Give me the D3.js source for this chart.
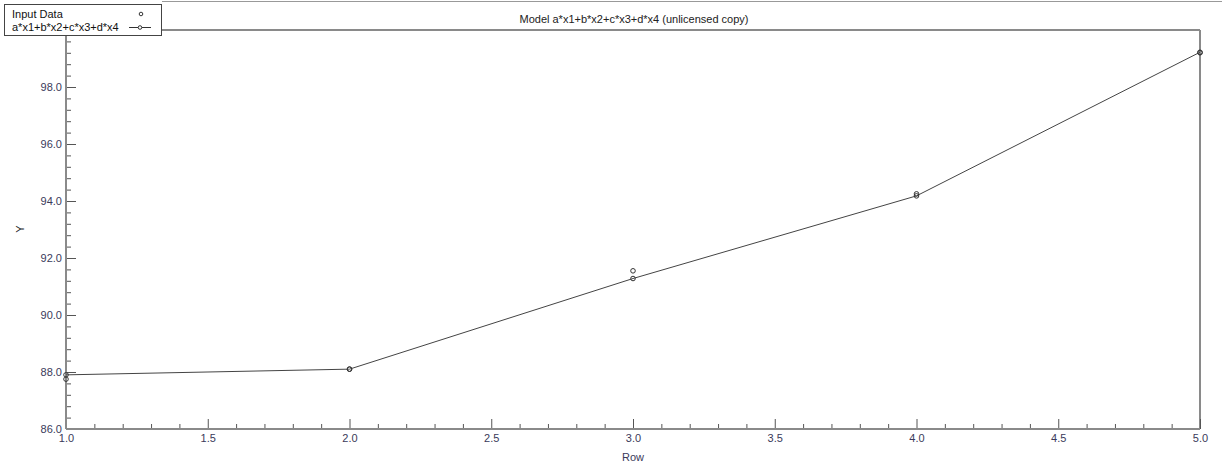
<!DOCTYPE html>
<html><head><meta charset="utf-8">
<script src="https://cdn.jsdelivr.net/npm/d3@7"></script>
<style>body{margin:0;background:#fff}svg{display:block;font-family:"Liberation Sans",Arial,sans-serif}</style>
</head><body>
<svg id="c" width="1222" height="474"></svg>
<script>
const rows = [1, 2, 3, 4, 5];
const inputData = [87.75, 88.1, 91.55, 94.25, 99.2];
const modelValues = [87.9, 88.1, 91.28, 94.18, 99.22];
const xTicks = [1.0, 1.5, 2.0, 2.5, 3.0, 3.5, 4.0, 4.5, 5.0];
const yTicks = [86.0, 88.0, 90.0, 92.0, 94.0, 96.0, 98.0];
const legendLabels = ["Input Data", "a*x1+b*x2+c*x3+d*x4"];
const title = "Model a*x1+b*x2+c*x3+d*x4 (unlicensed copy)";

const svg = d3.select("#c");
const L = 66, R = 1200, T = 30, B = 429;
const x = d3.scaleLinear().domain([1, 5]).range([L, R]);
const y = d3.scaleLinear().domain([86, 100]).range([B, T]);
const axisCol = "#8a8a8a", textCol = "#3a3a5a";

// top window line
svg.append("line").attr("x1", 162).attr("x2", 1222).attr("y1", 1.5).attr("y2", 1.5).attr("stroke", "#999").attr("stroke-width", 1);

// frame top & right
svg.append("line").attr("x1", 162).attr("x2", R).attr("y1", T).attr("y2", T).attr("stroke", axisCol).attr("stroke-width", 2);
svg.append("line").attr("x1", R).attr("x2", R).attr("y1", T).attr("y2", B).attr("stroke", axisCol).attr("stroke-width", 2);

// minor ticks
const xMinor = d3.range(10, 51).map(d => d / 10).filter(d => Math.abs(d * 2 - Math.round(d * 2)) > 1e-6);
const yMinor = d3.range(215, 251).map(d => d * 0.4).filter(d => d > 86 && d < 100 && Math.abs(d / 2 - Math.round(d / 2)) > 1e-6);

const xAxisMajor = d3.axisBottom(x).tickValues(xTicks).tickSize(-10).tickPadding(5).tickFormat(d3.format(".1f"));
const gx = svg.append("g").attr("transform", `translate(0,${B})`).call(xAxisMajor);
const gxm = svg.append("g").attr("transform", `translate(0,${B})`).call(d3.axisBottom(x).tickValues(xMinor).tickSize(-5).tickFormat(""));
const yAxisMajor = d3.axisLeft(y).tickValues(yTicks).tickSize(-10).tickPadding(4).tickFormat(d3.format(".1f"));
const gy = svg.append("g").attr("transform", `translate(${L},0)`).call(yAxisMajor);
const gym = svg.append("g").attr("transform", `translate(${L},0)`).call(d3.axisLeft(y).tickValues(yMinor).tickSize(-5).tickFormat(""));
[gx, gxm, gy, gym].forEach(g => {
  g.select(".domain").remove();
  g.selectAll(".tick line").attr("stroke", "#555").attr("stroke-width", 1);
  g.selectAll("text").attr("fill", textCol).attr("font-size", 11).attr("font-family", "Liberation Sans, Arial, sans-serif");
});
gx.selectAll(".tick text").attr("dy", "0.71em");
// axis lines
svg.append("line").attr("x1", L).attr("x2", R).attr("y1", B).attr("y2", B).attr("stroke", axisCol).attr("stroke-width", 2);
svg.append("line").attr("x1", L).attr("x2", L).attr("y1", 36).attr("y2", B).attr("stroke", axisCol).attr("stroke-width", 2);

// labels
svg.append("text").attr("x", 634).attr("y", 23).attr("text-anchor", "middle").attr("font-size", 11).attr("fill", "#222").text(title);
svg.append("text").attr("x", 633).attr("y", 461).attr("text-anchor", "middle").attr("font-size", 11).attr("fill", textCol).text("Row");
svg.append("text").attr("transform", "translate(24,229) rotate(-90)").attr("text-anchor", "middle").attr("font-size", 11).attr("fill", "#222").text("Y");

// model line
const line = d3.line().x((d, i) => x(rows[i])).y(d => y(d));
svg.append("path").datum(modelValues).attr("d", line).attr("fill", "none").attr("stroke", "#444").attr("stroke-width", 1);
svg.selectAll(".mp").data(modelValues).join("circle").attr("cx", (d, i) => x(rows[i])).attr("cy", d => y(d)).attr("r", 2.3).attr("fill", "none").attr("stroke", "#333").attr("stroke-width", 1);
svg.selectAll(".dp").data(inputData).join("circle").attr("cx", (d, i) => x(rows[i])).attr("cy", d => y(d)).attr("r", 2.3).attr("fill", "none").attr("stroke", "#333").attr("stroke-width", 1);

// legend
const lg = svg.append("g");
lg.append("rect").attr("x", 4.5).attr("y", 4.5).attr("width", 157).attr("height", 31).attr("fill", "#fff").attr("stroke", "#444").attr("stroke-width", 1);
lg.append("text").attr("x", 12).attr("y", 18).attr("font-size", 11).attr("fill", "#111").text(legendLabels[0]);
lg.append("text").attr("x", 12).attr("y", 31).attr("font-size", 11).attr("fill", "#111").text(legendLabels[1]);
lg.append("circle").attr("cx", 141).attr("cy", 14).attr("r", 1.8).attr("fill", "none").attr("stroke", "#333");
lg.append("line").attr("x1", 129).attr("x2", 151).attr("y1", 27.5).attr("y2", 27.5).attr("stroke", "#333");
lg.append("circle").attr("cx", 140).attr("cy", 27.5).attr("r", 1.8).attr("fill", "#fff").attr("stroke", "#333");
</script>
</body></html>
